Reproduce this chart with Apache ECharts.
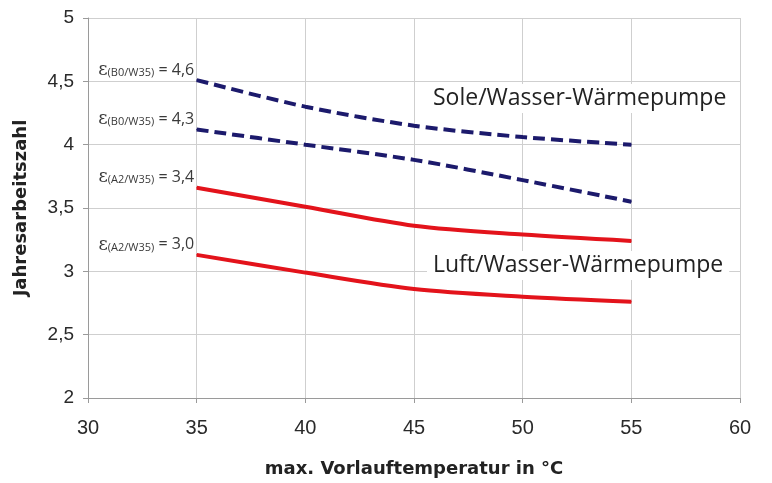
<!DOCTYPE html>
<html>
<head>
<meta charset="utf-8">
<script src="https://cdn.jsdelivr.net/npm/echarts@6/dist/echarts.min.js"></script>
<style>
  html, body { margin: 0; padding: 0; background: #fff; }
  #chart { width: 772px; height: 483px; }
</style>
</head>
<body>
<div id="chart"></div>
<script>
// Vorlauftemperatur (°C)
var temps = [35, 40, 45, 50, 55];

// Jahresarbeitszahl je Kurve
var soleHoch  = [4.51, 4.30, 4.15, 4.06, 4.00];
var soleNied  = [4.12, 4.00, 3.88, 3.72, 3.55];
var luftHoch  = [3.66, 3.51, 3.36, 3.29, 3.24];
var luftNied  = [3.13, 2.99, 2.86, 2.80, 2.76];

// Beschriftungen am Kurvenanfang
var kurvenLabels = [
    ['B0/W35', '4,6'],
    ['B0/W35', '4,3'],
    ['A2/W35', '3,4'],
    ['A2/W35', '3,0']
];

var BLAU = '#1c1a6c';
var ROT  = '#e3131b';

function toPairs(vals) {
    return temps.map(function (t, i) { return [t, vals[i]]; });
}

function serie(vals, color, dashed, lbl) {
    var data = toPairs(vals);
    data[0] = {
        value: data[0],
        label: {
            show: true,
            position: 'left',
            offset: [3, -10],
            formatter: '{e|ε}{s|(' + lbl[0] + ')}{t| = ' + lbl[1] + '}',
            rich: {
                e: { fontFamily: 'DejaVu Serif', fontSize: 18, color: '#3a3a3a' },
                s: { fontFamily: 'Open Sans', fontSize: 11, color: '#3a3a3a', padding: [5, 0, 0, 0] },
                t: { fontFamily: 'Open Sans', fontSize: 16, color: '#3a3a3a' }
            }
        }
    };
    return {
        type: 'line',
        data: data,
        smooth: 0.3,
        symbol: 'circle',
        symbolSize: 1,
        showSymbol: true,
        silent: true,
        itemStyle: { color: color },
        lineStyle: {
            color: color,
            width: 4,
            type: dashed ? [12, 6] : 'solid'
        }
    };
}

var chart = echarts.init(document.getElementById('chart'));

chart.setOption({
    backgroundColor: '#fff',
    animation: false,
    grid: { left: 88, right: 32, top: 18, bottom: 85 },
    xAxis: {
        type: 'value',
        min: 30,
        max: 60,
        interval: 5,
        name: 'max. Vorlauftemperatur in °C',
        nameLocation: 'middle',
        nameGap: 62,
        nameTextStyle: { fontFamily: 'DejaVu Sans', fontSize: 18, fontWeight: 'bold', color: '#222' },
        axisLine: { lineStyle: { color: '#9a9a9a' } },
        axisTick: { show: true, length: 5, lineStyle: { color: '#9a9a9a' } },
        axisLabel: { fontFamily: 'Liberation Sans', fontSize: 20, color: '#2a2a2a', margin: 20 },
        splitLine: { lineStyle: { color: '#cfcfcf' } }
    },
    yAxis: {
        type: 'value',
        min: 2,
        max: 5,
        interval: 0.5,
        name: 'Jahresarbeitszahl',
        nameLocation: 'middle',
        nameGap: 58,
        nameTextStyle: { fontFamily: 'DejaVu Sans', fontSize: 18, fontWeight: 'bold', color: '#222' },
        axisLine: { show: true, lineStyle: { color: '#9a9a9a' } },
        axisTick: { show: true, length: 5, lineStyle: { color: '#9a9a9a' } },
        axisLabel: {
            fontFamily: 'Liberation Sans', fontSize: 19, color: '#2a2a2a', margin: 14,
            formatter: function (v) { return String(v).replace('.', ','); }
        },
        splitLine: { lineStyle: { color: '#cfcfcf' } }
    },
    graphic: [
        {
            type: 'text', left: 427, top: 84, z: 10,
            style: {
                text: 'Sole/Wasser-Wärmepumpe', font: '23px "Open Sans"', fill: '#222',
                backgroundColor: '#fff', padding: [3, 6, 3, 6]
            }
        },
        {
            type: 'text', left: 427, top: 251, z: 10,
            style: {
                text: 'Luft/Wasser-Wärmepumpe', font: '23px "Open Sans"', fill: '#222',
                backgroundColor: '#fff', padding: [3, 6, 3, 6]
            }
        }
    ],
    series: [
        serie(soleHoch, BLAU, true, kurvenLabels[0]),
        serie(soleNied, BLAU, true, kurvenLabels[1]),
        serie(luftHoch, ROT, false, kurvenLabels[2]),
        serie(luftNied, ROT, false, kurvenLabels[3])
    ]
});

window.addEventListener('resize', function () { chart.resize(); });
</script>
</body>
</html>
